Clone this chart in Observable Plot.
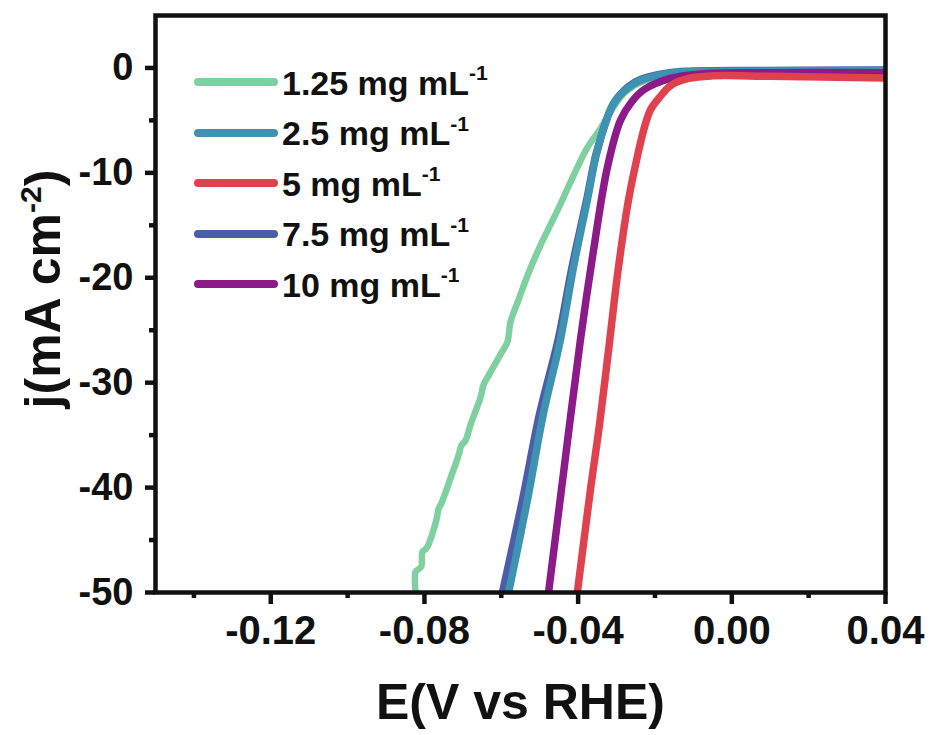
<!DOCTYPE html>
<html><head><meta charset="utf-8">
<script src="https://cdn.jsdelivr.net/npm/d3@7"></script>
<script src="https://cdn.jsdelivr.net/npm/@observablehq/plot@0.6"></script>
<style>
body{margin:0;background:#fff;}
#wrap{position:relative;width:930px;height:735px;font-family:"Liberation Sans",Arial,sans-serif;font-weight:bold;color:#111;}
#legend{position:absolute;left:193px;top:57px;}
.row{display:flex;align-items:center;height:50.5px;font-size:34px;line-height:1;}
.row svg{margin-right:3px;}
.row sup{font-size:0.62em;position:relative;top:-0.12em;}
</style></head><body><div id="wrap"><div id="chart"></div><div id="legend"></div></div>
<script>
// Series labels and colours
const seriesNames = ["1.25 mg mL{-1}", "2.5 mg mL{-1}", "5 mg mL{-1}", "7.5 mg mL{-1}", "10 mg mL{-1}"];
const seriesColors = ["#7fd0a1", "#3e92b2", "#e0414f", "#4a5ea9", "#8c1a88"];

// 1.25 mg/mL
const E_125 = [-0.0823,-0.0823,-0.0816,-0.0808,-0.0805,-0.0795,-0.0769,-0.0763,-0.0756,-0.0732,-0.0711,-0.0704,-0.0693,-0.0680,-0.0654,-0.0646,-0.0628,-0.0602,-0.0584,-0.0576,-0.0555,-0.0532,-0.0498,-0.0454,-0.0415,-0.0376,-0.0342,-0.0311,-0.0277,-0.0225,-0.0147,-0.0029,0.04];
const j_125 = [-50,-48.0,-47.8,-47.5,-46.1,-45.8,-43.1,-42.0,-41.5,-39.1,-36.9,-36.0,-35.5,-34.0,-31.4,-30.2,-29.0,-27.3,-26.1,-24.2,-22.1,-19.8,-16.9,-13.6,-10.5,-7.6,-5.8,-3.9,-2.3,-1.2,-0.6,-0.4,-0.3];
// 2.5 mg/mL
const E_25 = [-0.0581,-0.0532,-0.0490,-0.0446,-0.0412,-0.0376,-0.0350,-0.0308,-0.0270,-0.0238,-0.0152,0.0,0.04];
const j_25 = [-50,-41.2,-32.9,-25.9,-19.0,-12.6,-7.9,-3.4,-1.9,-1.2,-0.45,-0.3,-0.25];
// 5 mg/mL
const E_5 = [-0.0402,-0.0368,-0.0344,-0.0318,-0.0295,-0.0269,-0.0248,-0.0230,-0.0212,-0.0188,-0.0160,-0.0113,-0.0050,0.01,0.04];
const j_5 = [-50,-40.2,-33.9,-26.0,-19.0,-12.6,-8.8,-6.0,-4.0,-2.8,-1.7,-1.0,-0.75,-0.8,-0.95];
// 7.5 mg/mL
const E_75 = [-0.0597,-0.0545,-0.0500,-0.0452,-0.0416,-0.0378,-0.0351,-0.0308,-0.0270,-0.0238,-0.0152,0.0,0.04];
const j_75 = [-50,-41.2,-32.9,-25.9,-19.0,-12.6,-7.9,-3.4,-1.8,-1.1,-0.4,-0.25,-0.2];
// 10 mg/mL
const E_10 = [-0.0477,-0.0438,-0.0394,-0.0360,-0.0324,-0.0290,-0.0260,-0.0230,-0.0160,-0.0074,0.01,0.04];
const j_10 = [-50,-38.6,-25.9,-17.4,-9.5,-5.0,-3.2,-2.1,-1.0,-0.55,-0.45,-0.45];

const xTicks = [-0.12,-0.08,-0.04,0.00,0.04];
const xMinor = [-0.14,-0.10,-0.06,-0.02,0.02];
const yTicks = [0,-10,-20,-30,-40,-50];
const yMinor = [-5,-15,-25,-35,-45];
const xLabel = "E(V vs RHE)";
const yLabel = "j(mA cm{-2})";

const seriesE = [E_125, E_25, E_5, E_75, E_10];
const seriesJ = [j_125, j_25, j_5, j_75, j_10];
const rows = (i) => seriesE[i].map((e, k) => ({E: e, j: seriesJ[i][k]}));
const drawOrder = [0, 3, 1, 4, 2];
const widths = [6.5, 7.5, 7.5, 7.5, 7.5];

const chart = Plot.plot({
  width: 930, height: 735,
  marginLeft: 155, marginRight: 45, marginTop: 15, marginBottom: 143,
  x: {domain: [-0.15, 0.04]},
  y: {domain: [-50, 5]},
  style: {fontFamily: '"Liberation Sans", Arial, sans-serif', fontWeight: "bold", color: "#111", background: "#fff"},
  marks: [
    ...drawOrder.map(i => Plot.line(rows(i), {x: "E", y: "j", stroke: seriesColors[i], strokeWidth: widths[i], strokeLinejoin: "round", strokeLinecap: "butt", curve: "catmull-rom", clip: true})),
    Plot.frame({stroke: "#111", strokeWidth: 4.5}),
    Plot.axisX({ticks: xTicks, tickSize: 12, strokeWidth: 4.5, tickPadding: 11, fontSize: 40, tickFormat: d => d.toFixed(2), label: null}),
    Plot.axisX({ticks: xMinor, tickSize: 6, strokeWidth: 4.5, tickFormat: () => "", label: null}),
    Plot.axisY({ticks: yTicks, tickSize: 10, strokeWidth: 4.5, tickPadding: 12, fontSize: 38, tickFormat: d => String(d), label: null}),
    Plot.axisY({ticks: yMinor, tickSize: 6, strokeWidth: 4.5, tickFormat: () => "", label: null}),
    Plot.text([xLabel], {frameAnchor: "bottom", dy: 110, fontSize: 50, lineAnchor: "middle", textAnchor: "middle", fontWeight: "bold"}),
    Plot.text([yLabel], {frameAnchor: "left", dx: -112, dy: -15, rotate: -90, fontSize: 50, lineAnchor: "middle", textAnchor: "middle", fontWeight: "bold"})
  ]
});
document.getElementById("chart").appendChild(chart);

// turn {..} into superscripts inside SVG text
chart.querySelectorAll("text").forEach(t => {
  const s = t.textContent;
  if (!/\{.*\}/.test(s)) return;
  const m = s.match(/^(.*)\{(.*)\}(.*)$/);
  const fs = parseFloat(t.getAttribute("font-size")) || 50;
  while (t.firstChild) t.removeChild(t.firstChild);
  const ns = "http://www.w3.org/2000/svg";
  const a = document.createElementNS(ns, "tspan"); a.textContent = m[1]; t.appendChild(a);
  const b = document.createElementNS(ns, "tspan"); b.textContent = m[2];
  b.setAttribute("font-size", fs * 0.6); b.setAttribute("dy", -fs * 0.38); t.appendChild(b);
  const c = document.createElementNS(ns, "tspan"); c.textContent = ")";
  c.setAttribute("dy", fs * 0.38); t.appendChild(c);
  if (m[3]) { c.textContent = m[3]; } else if (!s.includes("(")) { t.removeChild(c); }
});

// legend
const lg = document.getElementById("legend");
seriesNames.forEach((name, i) => {
  const m = name.match(/^(.*)\{(.*)\}$/);
  const row = document.createElement("div"); row.className = "row";
  row.innerHTML = `<svg width="86" height="50"><line x1="5" x2="81" y1="25" y2="25" stroke="${seriesColors[i]}" stroke-width="8" stroke-linecap="round"/></svg><span>${m[1]}<sup>${m[2]}</sup></span>`;
  lg.appendChild(row);
});
</script>
</body></html>
